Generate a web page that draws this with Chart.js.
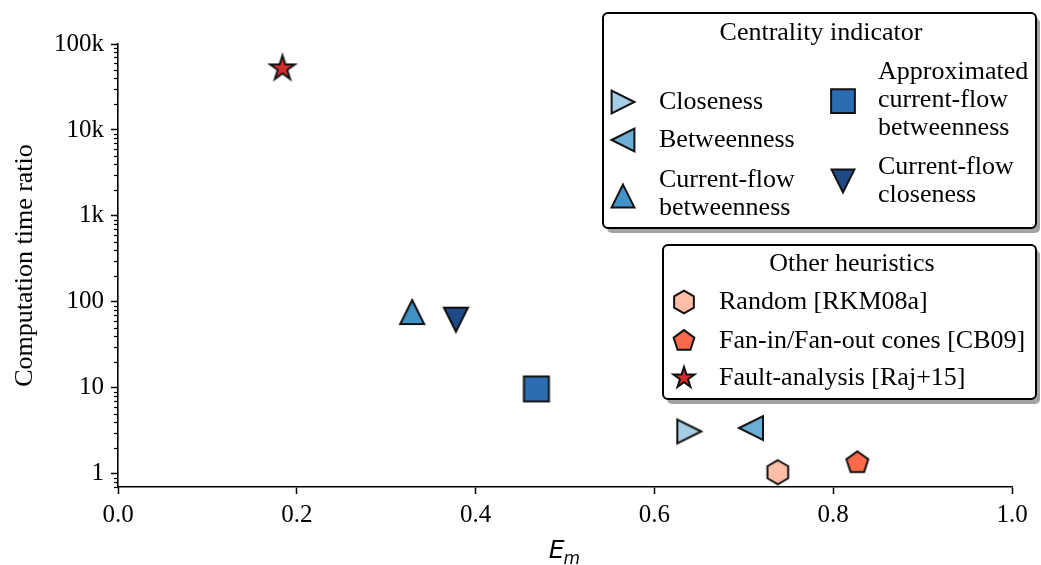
<!DOCTYPE html>
<html>
<head>
<meta charset="utf-8">
<script src="https://cdn.jsdelivr.net/npm/chart.js@4"></script>
<style>
  html, body { margin: 0; padding: 0; background: #fff; }
  #wrap { width: 1041px; height: 565px; position: relative; }
</style>
</head>
<body>
<div id="wrap"><canvas id="chart"></canvas></div>
<script>
// data
const seriesNames = [
  'Closeness', 'Betweenness', 'Current-flow betweenness',
  'Approximated current-flow betweenness', 'Current-flow closeness',
  'Random [RKM08a]', 'Fan-in/Fan-out cones [CB09]', 'Fault-analysis [Raj+15]'
];
const emValues = [0.639, 0.708, 0.329, 0.468, 0.378, 0.738, 0.827, 0.184];
const timeRatios = [3.1, 3.4, 76, 9.7, 62, 1.04, 1.34, 52000];

const legendLabels = [
  ['Closeness'], ['Betweenness'], ['Current-flow', 'betweenness'],
  ['Approximated', 'current-flow', 'betweenness'], ['Current-flow', 'closeness'],
  ['Random [RKM08a]'], ['Fan-in/Fan-out cones [CB09]'], ['Fault-analysis [Raj+15]']
];
const legendTitles = ['Centrality indicator', 'Other heuristics'];

const xTickValues = [0, 0.2, 0.4, 0.6, 0.8, 1.0];
const yTickValues = [1, 10, 100, 1000, 10000, 100000];
const yTickLabels = ['1', '10', '100', '1k', '10k', '100k'];

// styles
const fillColors = ['#a6cde3', '#6baed6', '#4292c6', '#2a6db3', '#1f4a87', '#fcbea7', '#fb6a4a', '#d42b2f'];
const markerShapes = ['right', 'left', 'up', 'square', 'down', 'hexagon', 'pentagon', 'star'];

const serif = '"Liberation Serif", serif';

function polygon(n, R, start, inner) {
  const pts = [];
  const count = inner ? n * 2 : n;
  for (let i = 0; i < count; i++) {
    const a = start + i * Math.PI * 2 / count;
    const r = inner && i % 2 ? R * inner : R;
    pts.push([r * Math.cos(a), r * Math.sin(a)]);
  }
  return pts;
}

function makeMarker(shape, fill, scale) {
  const c = document.createElement('canvas');
  c.width = c.height = 34;
  const g = c.getContext('2d');
  g.translate(17, 17);
  g.scale(scale, scale);
  let pts;
  const r = 12;
  if (shape === 'up') pts = [[0, -r], [r, r], [-r, r]];
  else if (shape === 'down') pts = [[0, r], [r, -r], [-r, -r]];
  else if (shape === 'right') pts = [[r, 0], [-r, -r], [-r, r]];
  else if (shape === 'left') pts = [[-r, 0], [r, -r], [r, r]];
  else if (shape === 'square') pts = [[-12.5, -12.5], [12.5, -12.5], [12.5, 12.5], [-12.5, 12.5]];
  else if (shape === 'hexagon') pts = polygon(6, 12, -Math.PI / 2);
  else if (shape === 'pentagon') pts = polygon(5, 11.5, -Math.PI / 2);
  else pts = polygon(5, 13, -Math.PI / 2, 0.381966);
  g.beginPath();
  pts.forEach((p, i) => i ? g.lineTo(p[0], p[1]) : g.moveTo(p[0], p[1]));
  g.closePath();
  g.fillStyle = fill;
  g.fill();
  g.lineWidth = 2 / scale;
  g.lineJoin = 'miter';
  g.strokeStyle = '#111';
  g.stroke();
  return c;
}

const markers = markerShapes.map((s, i) => makeMarker(s, fillColors[i], 1));
const legendMarkers = markerShapes.map((s, i) => makeMarker(s, fillColors[i], s === 'star' ? 0.85 : 0.95));

const datasets = seriesNames.map((name, i) => ({
  label: name,
  data: [{ x: emValues[i], y: timeRatios[i] }],
  pointStyle: markers[i],
  pointRadius: 12,
  backgroundColor: fillColors[i],
  borderColor: '#111',
  showLine: false
}));

function roundRect(ctx, x, y, w, h, r) {
  ctx.beginPath();
  ctx.moveTo(x + r, y);
  ctx.arcTo(x + w, y, x + w, y + h, r);
  ctx.arcTo(x + w, y + h, x, y + h, r);
  ctx.arcTo(x, y + h, x, y, r);
  ctx.arcTo(x, y, x + w, y, r);
  ctx.closePath();
}

function drawBox(ctx, x, y, w, h) {
  roundRect(ctx, x + 4, y + 5, w, h, 5);
  ctx.fillStyle = '#a3a3a3';
  ctx.fill();
  roundRect(ctx, x, y, w, h, 5);
  ctx.fillStyle = '#fff';
  ctx.fill();
  ctx.lineWidth = 2;
  ctx.strokeStyle = '#000';
  ctx.stroke();
}

// legend entry layout: marker position, text x, first line y
const legendLayout = [
  { mx: 623, my: 102, tx: 659, ty: 102 },
  { mx: 623, my: 140, tx: 659, ty: 140 },
  { mx: 623, my: 196, tx: 659, ty: 180 },
  { mx: 843, my: 101, tx: 878, ty: 72 },
  { mx: 843, my: 181, tx: 878, ty: 167 },
  { mx: 684, my: 302, tx: 719, ty: 302 },
  { mx: 684, my: 341, tx: 719, ty: 341 },
  { mx: 684, my: 378, tx: 719, ty: 378 }
];

const extras = {
  id: 'extras',
  afterDraw(chart) {
    const ctx = chart.ctx;
    const y = chart.scales.y;
    const x = chart.scales.x;
    ctx.save();
    // minor log ticks
    ctx.strokeStyle = '#000';
    ctx.lineWidth = 1.2;
    for (let e = -1; e < 6; e++) {
      for (let k = 2; k < 10; k++) {
        const v = k * Math.pow(10, e);
        if (v < y.min || v > y.max) continue;
        const py = Math.round(y.getPixelForValue(v)) + 0.5;
        ctx.beginPath();
        ctx.moveTo(y.right - 4, py);
        ctx.lineTo(y.right, py);
        ctx.stroke();
      }
    }
    // x axis title E_m
    const cx = (x.left + x.right) / 2;
    ctx.fillStyle = '#000';
    ctx.textBaseline = 'alphabetic';
    ctx.font = 'italic 25px "DejaVu Sans"';
    const wE = ctx.measureText('E').width;
    ctx.font = 'italic 17px "DejaVu Sans"';
    const wm = ctx.measureText('m').width;
    const sx = cx - (wE + wm) / 2;
    ctx.font = 'italic 25px "DejaVu Sans"';
    ctx.textAlign = 'left';
    ctx.fillText('E', sx, 558);
    ctx.font = 'italic 17px "DejaVu Sans"';
    ctx.fillText('m', sx + wE - 1, 564);

    // legends
    drawBox(ctx, 603, 13, 433, 215);
    drawBox(ctx, 663, 245, 373, 154);
    ctx.font = '26px ' + serif;
    ctx.fillStyle = '#000';
    ctx.textBaseline = 'middle';
    ctx.textAlign = 'center';
    ctx.fillText(legendTitles[0], 821, 33);
    ctx.fillText(legendTitles[1], 852, 264);
    ctx.textAlign = 'left';
    legendLayout.forEach((p, i) => {
      const img = legendMarkers[i];
      ctx.drawImage(img, p.mx - img.width / 2, p.my - img.height / 2);
      legendLabels[i].forEach((line, j) => ctx.fillText(line, p.tx, p.ty + j * 28));
    });
    ctx.restore();
  }
};

new Chart(document.getElementById('chart'), {
  type: 'scatter',
  data: { datasets: datasets },
  options: {
    responsive: true,
    maintainAspectRatio: false,
    animation: false,
    layout: { padding: { left: 0, top: 44, right: 29, bottom: 0 } },
    plugins: { legend: { display: false }, tooltip: { enabled: false } },
    scales: {
      x: {
        type: 'linear',
        min: 0,
        max: 1,
        afterFit: s => { s.height = 78; },
        afterBuildTicks: s => { s.ticks = xTickValues.map(v => ({ value: v })); },
        border: { color: '#000', width: 1.6 },
        grid: { display: true, drawOnChartArea: false, drawTicks: true, tickLength: 7, tickColor: '#000', tickWidth: 1.5 },
        ticks: {
          color: '#000',
          padding: 6,
          maxRotation: 0,
          font: { family: serif, size: 25 },
          callback: v => v.toFixed(1)
        }
      },
      y: {
        type: 'logarithmic',
        min: 0.726,
        max: 100000,
        afterFit: s => { s.width = 118; },
        afterBuildTicks: s => { s.ticks = yTickValues.map(v => ({ value: v })); },
        border: { color: '#000', width: 1.6 },
        grid: { display: true, drawOnChartArea: false, drawTicks: true, tickLength: 7, tickColor: '#000', tickWidth: 1.5 },
        ticks: {
          color: '#000',
          padding: 7,
          font: { family: serif, size: 25 },
          callback: function (v) {
            const i = yTickValues.indexOf(v);
            return i >= 0 ? yTickLabels[i] : '';
          }
        },
        title: {
          display: true,
          text: 'Computation time ratio',
          color: '#000',
          font: { family: serif, size: 26 },
          padding: { top: 10, bottom: 0 }
        }
      }
    }
  },
  plugins: [extras]
});
</script>
</body>
</html>
